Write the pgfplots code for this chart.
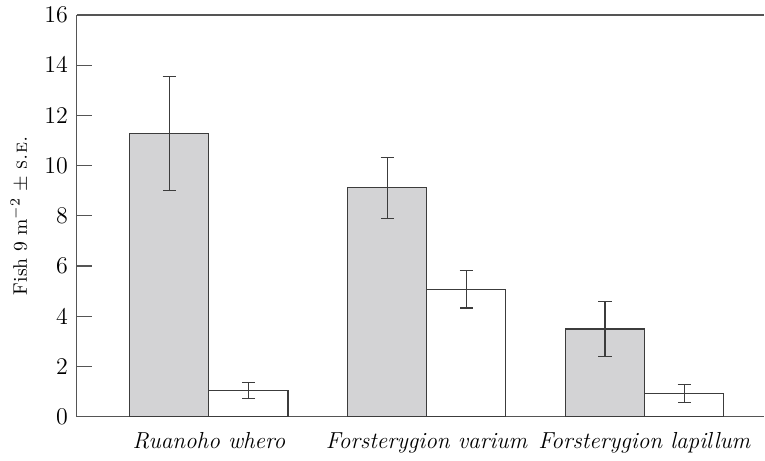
\documentclass[border=0pt]{standalone}
\usepackage{pgfplots}
\pgfplotsset{compat=1.18}
\definecolor{barfill}{RGB}{211,211,213}
\definecolor{axgray}{RGB}{85,85,85}
\definecolor{edgegray}{RGB}{60,60,60}
\begin{document}
\begin{tikzpicture}
\begin{axis}[
  scale only axis,
  width=344pt, height=201pt,
  xmin=-0.606, xmax=2.55,
  ymin=0, ymax=16,
  ytick={0,2,...,16},
  axis x line=box,
  axis y line=left,
  axis line style={-, axgray, line width=0.6pt},
  xtick={0,1,2},
  xticklabels={\textit{Ruanoho whero},\textit{Forsterygion varium},\textit{Forsterygion lapillum}},
  x tick style={draw=none},
  y tick style={axgray, line width=0.6pt},
  tick align=inside,
  major tick length=7.5pt,
  ylabel={Fish 9 m$^{-2}$ $\pm$ \textsc{s.e.}},
  ylabel style={font=\fontsize{9.8}{12}\selectfont, yshift=1pt},
  yticklabel style={font=\fontsize{12}{14}\selectfont, xshift=-1pt},
  xticklabel style={font=\fontsize{11.6}{14}\selectfont, yshift=3pt},
  ybar=0pt,
  bar width=0.363,
  error bars/y dir=both,
  error bars/y explicit,
  error bars/error bar style={edgegray, line width=0.6pt},
  error bars/error mark options={rotate=90, mark size=3.3pt, edgegray, line width=0.6pt},
]
\addplot[draw=edgegray, fill=barfill, line width=0.6pt] coordinates {
  (0,11.28) +- (0,2.28)
  (1,9.12) +- (0,1.21)
  (2,3.49) +- (0,1.09)
};
\addplot[draw=edgegray, fill=white, line width=0.6pt] coordinates {
  (0,1.05) +- (0,0.31)
  (1,5.07) +- (0,0.74)
  (2,0.92) +- (0,0.36)
};
\end{axis}
\path ([xshift=-2pt]current bounding box.west) -- (current bounding box.west);
\end{tikzpicture}
\end{document}
